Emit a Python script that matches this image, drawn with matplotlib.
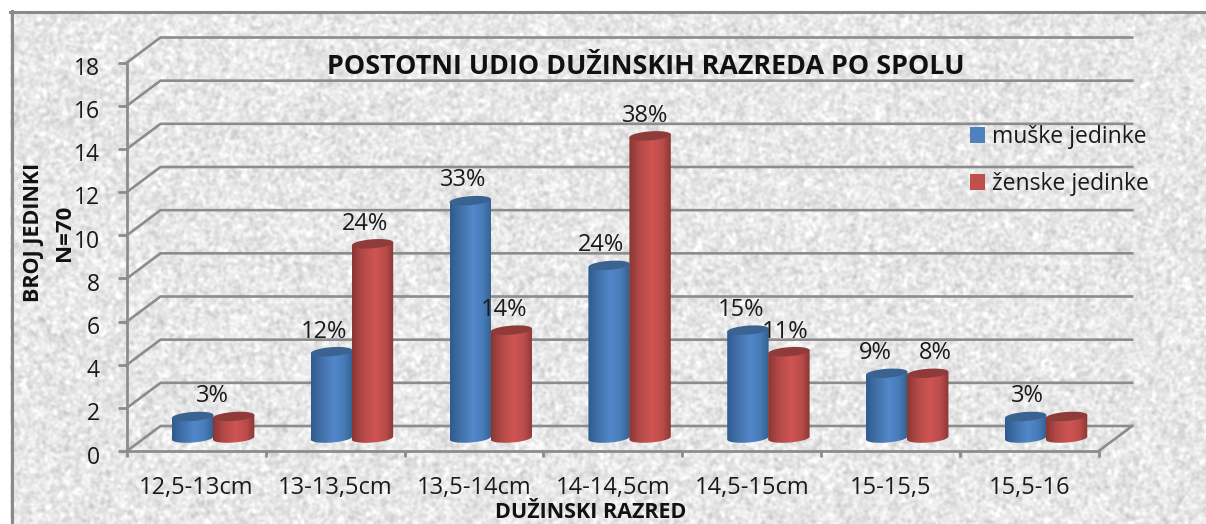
import numpy as np
import matplotlib
matplotlib.use('Agg')
import matplotlib.pyplot as plt
from matplotlib.colors import LinearSegmentedColormap
from matplotlib.patches import PathPatch, Patch
from matplotlib.path import Path
from matplotlib.transforms import ScaledTranslation

categories = ['12,5-13cm', '13-13,5cm', '13,5-14cm', '14-14,5cm', '14,5-15cm', '15-15,5', '15,5-16']
muske = [1, 4, 11, 8, 5, 3, 1]
zenske = [1, 9, 5, 14, 4, 3, 1]
labels_m = ['3%', '12%', '33%', '24%', '15%', '9%', '3%']
labels_z = ['', '24%', '14%', '38%', '11%', '8%', '']
y_ticks = [0, 2, 4, 6, 8, 10, 12, 14, 16, 18]

W, H = 1206, 524
plt.rcParams['font.family'] = ['Open Sans', 'DejaVu Sans']
fig = plt.figure(figsize=(W / 100, H / 100), dpi=100, facecolor='white')

# speckled background of the chart area
bg = fig.add_axes([10 / W, 0, (W - 10) / W, (H - 11) / H], zorder=0)
rng = np.random.default_rng(3)
noise = rng.normal(size=(H - 11, W - 10))
kx = np.fft.fftfreq(noise.shape[1])[None, :]
ky = np.fft.fftfreq(noise.shape[0])[:, None]
noise = np.fft.ifft2(np.fft.fft2(noise) * np.exp(-(kx ** 2 + ky ** 2) * 2 * (np.pi * 1.4) ** 2)).real
noise = noise / noise.std()
bg.imshow(231 + 9 * noise, cmap='gray', vmin=0, vmax=255, aspect='auto', interpolation='bilinear')
bg.axis('off')
fig.add_artist(plt.Line2D([11.5 / W, 11.5 / W], [0, 1 - 11 / H], color='#8a8a8a', lw=2.2))
fig.add_artist(plt.Line2D([10 / W, 1], [1 - 12 / H, 1 - 12 / H], color='#8a8a8a', lw=2.2))

# main axes = front plane of the 3d box
x0, x1, y0, y18 = 127, 1098.7, 451, 62.5
ax = fig.add_axes([x0 / W, 1 - y0 / H, (x1 - x0) / W, (y0 - y18) / H], zorder=1)
ax.patch.set_alpha(0)
ax.set_xlim(0, 7)
ax.set_ylim(0, 18)
px = (x1 - x0) / 7
py = (y0 - y18) / 18
dx = 33.5 / px
dy = 25 / py

grid_c = '#8c8c8c'
for t in y_ticks:
    ax.plot([0, dx, 7 + dx], [t, t + dy, t + dy], color=grid_c, lw=1.9, clip_on=False, zorder=1, solid_joinstyle='miter')
ax.plot([7, 7 + dx], [0, dy], color=grid_c, lw=1.9, clip_on=False, zorder=1)

for s in ['top', 'right']:
    ax.spines[s].set_visible(False)
for s in ['left', 'bottom']:
    ax.spines[s].set_color(grid_c)
    ax.spines[s].set_linewidth(2)
ax.set_yticks(y_ticks)
ax.set_xticks(range(8))
ax.set_xticklabels([])
ax.set_xticks(np.arange(7) + 0.5, categories, minor=True)
ax.tick_params(axis='x', which='major', length=4.5, width=2, color=grid_c)
ax.tick_params(axis='x', which='minor', length=0, pad=18, labelsize=17, labelcolor='#1a1a1a')
ax.tick_params(axis='y', length=6.5, width=2, color=grid_c, pad=13, labelsize=16.5, labelcolor='#1a1a1a')

blue = LinearSegmentedColormap.from_list('b', [(0, '#2f5b8e'), (0.28, '#4473ad'), (0.55, '#5288cb'), (0.8, '#477bb8'), (1, '#33608f')])
red = LinearSegmentedColormap.from_list('r', [(0, '#8a3634'), (0.25, '#b34a48'), (0.55, '#cf5553'), (0.8, '#bb4c4a'), (1, '#8a3836')])
blue_top = '#3a6391'
red_top = '#8f3b39'


def cylinder(cx, value, cmap, top_c, base):
    a = 20.7 / px
    b = 4.5 / py
    s = 1.5 / py
    t = np.linspace(0, np.pi, 60)
    top = base + value
    # front edge of the bottom from left to right, then straight up and back
    low_x = cx - a * np.cos(t)
    low_y = base - b * np.sin(t) - s * np.cos(t)
    up_x = cx + a * np.cos(t)
    up_y = top + s * np.cos(t)
    verts = np.r_[np.c_[low_x, low_y], np.c_[up_x, up_y], [[low_x[0], low_y[0]]]]
    im = ax.imshow(np.linspace(0, 1, 80)[None, :], cmap=cmap, aspect='auto',
                   extent=[cx - a, cx + a, base - 2 * b, top + 2 * b], zorder=3)
    clip = PathPatch(Path(verts), transform=ax.transData, fc='none', ec='none')
    ax.add_patch(clip)
    im.set_clip_path(clip)
    full = np.linspace(0, 2 * np.pi, 80)
    ax.fill(cx + a * np.cos(full), top + b * np.sin(full) + s * np.cos(full), color=top_c, zorder=3, lw=0)


base_y = 0.6
shift_m = [20, -7, -7, -8, -7, -11, 2]
shift_z = [0, -7, -7, -5, -4, 8, 0]
for i in range(7):
    c = i + 0.5 + dx / 2
    cylinder(c - 20.5 / px, muske[i], blue, blue_top, base_y)
    cylinder(c + 20.5 / px, zenske[i], red, red_top, base_y)
    ax.annotate(labels_m[i], (c - 20.5 / px, base_y + muske[i]), xytext=(shift_m[i] * 0.72, 14.5),
                textcoords='offset points', ha='center', va='center', fontsize=17, color='#1a1a1a', zorder=5)
    if labels_z[i]:
        ax.annotate(labels_z[i], (c + 20.5 / px, base_y + zenske[i]), xytext=(shift_z[i] * 0.72, 14.5),
                    textcoords='offset points', ha='center', va='center', fontsize=17, color='#1a1a1a', zorder=5)
ax.set_xlim(0, 7)
ax.set_ylim(0, 18)

fig.text(646 / W, 1 - 67 / H, 'POSTOTNI UDIO DUŽINSKIH RAZREDA PO SPOLU', ha='center', va='center',
         fontsize=19.4, fontweight='bold', color='#111111', zorder=5)
fig.text(33 / W, 1 - 232 / H, 'BROJ JEDINKI', rotation=90, ha='center', va='center',
         fontsize=15.5, fontweight='bold', color='#111111', zorder=5)
fig.text(65 / W, 1 - 233 / H, 'N=70', rotation=90, ha='center', va='center',
         fontsize=16, fontweight='bold', color='#111111', zorder=5)
fig.text(591 / W, 1 - 513 / H, 'DUŽINSKI RAZRED', ha='center', va='center',
         fontsize=15.5, fontweight='bold', color='#111111', zorder=5)

handles = [Patch(fc='#4f81bd', lw=0, label='muške jedinke'), Patch(fc='#c0504d', lw=0, label='ženske jedinke')]
ax.legend(handles=handles, loc='upper left', bbox_to_anchor=(970 / W, 1 - 125 / H), bbox_transform=fig.transFigure,
          frameon=False, fontsize=16.5, labelspacing=1.0, handlelength=0.66, handleheight=0.66,
          handletextpad=0.32, borderpad=0, borderaxespad=0, labelcolor='#1a1a1a')

for lab in ax.get_yticklabels():
    lab.set_transform(lab.get_transform() + ScaledTranslation(0, -3.5 / 100, fig.dpi_scale_trans))

fig.savefig('out.png', dpi=100)
